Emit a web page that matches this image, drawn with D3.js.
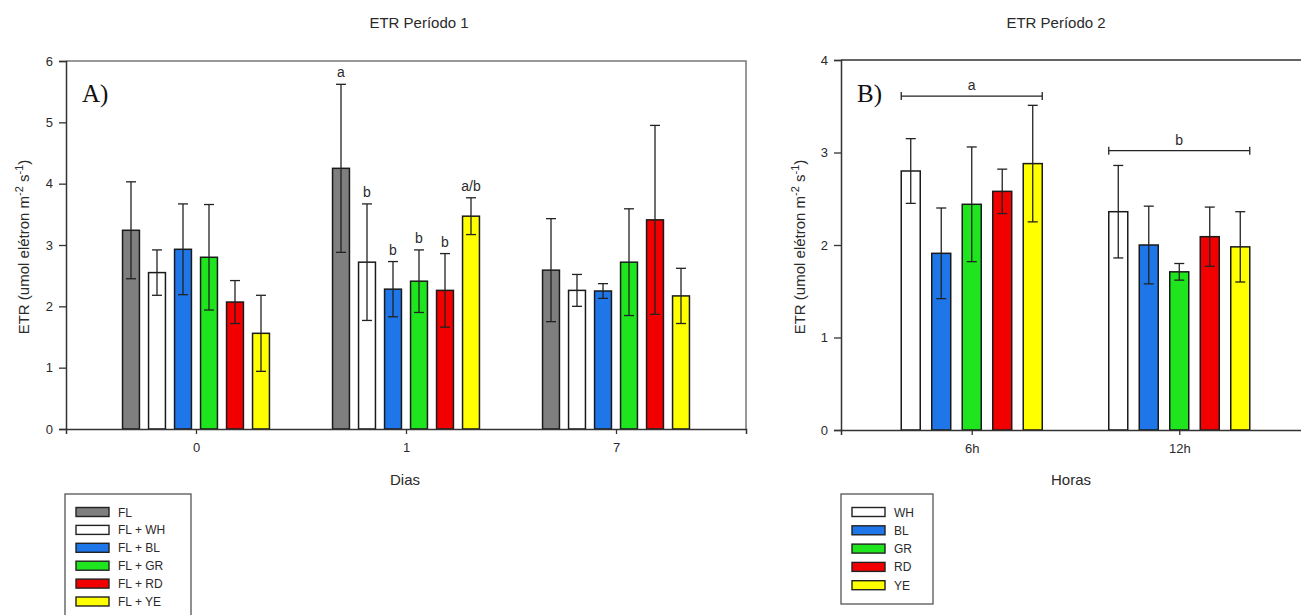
<!DOCTYPE html>
<html>
<head>
<meta charset="utf-8">
<script src="https://cdn.jsdelivr.net/npm/d3@7"></script>
<style>
  body { margin: 0; background: #fff; }
  svg { display: block; font-family: "Liberation Sans", Arial, sans-serif; }
</style>
</head>
<body>
<svg id="chart" width="1301" height="615"></svg>
<script>
// ---- Panel A data (ETR Período 1) ----
const daysA = ["0", "1", "7"];
const seriesA = ["FL", "FL + WH", "FL + BL", "FL + GR", "FL + RD", "FL + YE"];
const colorsA = ["#7f7f7f", "#ffffff", "#1e76e8", "#1fe51f", "#f20000", "#ffff00"];
const meanA = [
    [3.24, 2.55, 2.93, 2.80, 2.07, 1.56],
    [4.25, 2.72, 2.28, 2.41, 2.26, 3.47],
    [2.59, 2.26, 2.25, 2.72, 3.41, 2.17]
];
const errA = [
    [0.79, 0.37, 0.74, 0.86, 0.35, 0.62],
    [1.37, 0.95, 0.45, 0.51, 0.60, 0.30],
    [0.84, 0.26, 0.12, 0.87, 1.54, 0.45]
];
const lettersA = [
    ["", "", "", "", "", ""],
    ["a", "b", "b", "b", "b", "a/b"],
    ["", "", "", "", "", ""]
];
const ticksA = [0, 1, 2, 3, 4, 5, 6];

// ---- Panel B data (ETR Período 2) ----
const hoursB = ["6h", "12h"];
const seriesB = ["WH", "BL", "GR", "RD", "YE"];
const colorsB = ["#ffffff", "#1e76e8", "#1fe51f", "#f20000", "#ffff00"];
const meanB = [
    [2.80, 1.91, 2.44, 2.58, 2.88],
    [2.36, 2.00, 1.71, 2.09, 1.98]
];
const errB = [
    [0.35, 0.49, 0.62, 0.24, 0.63],
    [0.50, 0.42, 0.09, 0.32, 0.38]
];
const bracketLetters = ["a", "b"];
const bracketLevel = [3.61, 3.02];
const ticksB = [0, 1, 2, 3, 4];

const svg = d3.select("#chart");
const ink = "#2a2a2a";

// Draws one grouped bar panel and returns its scales
function drawPanel(opt) {
    const g = svg.append("g");
    const x0 = d3.scalePoint().domain(opt.groups).range([opt.left, opt.right]).padding(opt.groupPad);
    const x1 = d3.scaleBand().domain(opt.series).range([-opt.half, opt.half])
        .paddingInner(opt.barPad).paddingOuter(opt.barPad / 2);
    const y = d3.scaleLinear().domain([0, opt.ymax]).range([opt.bottom, opt.top]);

    // frame (top + right)
    g.append("path")
        .attr("d", `M${opt.left},${opt.top}H${opt.right}V${opt.bottom}`)
        .attr("fill", "none")
        .attr("stroke", opt.frameColor)
        .attr("stroke-width", 1.5);

    // one row per bar
    const rows = [];
    opt.groups.forEach((grp, i) => {
        opt.series.forEach((s, j) => {
            rows.push({ grp, s, j, v: opt.mean[i][j], e: opt.err[i][j], lab: opt.letters ? opt.letters[i][j] : "" });
        });
    });

    const bx = d => x0(d.grp) + x1(d.s);
    g.selectAll("rect.bar")
        .data(rows)
        .enter().append("rect")
        .attr("class", "bar")
        .attr("x", bx)
        .attr("width", x1.bandwidth())
        .attr("y", d => y(d.v))
        .attr("height", d => y(0) - y(d.v))
        .attr("fill", d => opt.colors[d.j])
        .attr("stroke", "#1a1a1a")
        .attr("stroke-width", 1.5);

    // error bars (line + caps at both ends)
    const eb = g.selectAll("g.err").data(rows).enter().append("g").attr("class", "err")
        .attr("stroke", "#222").attr("stroke-width", 1.3);
    const cx = d => bx(d) + x1.bandwidth() / 2;
    eb.append("line").attr("x1", cx).attr("x2", cx)
        .attr("y1", d => y(d.v + d.e)).attr("y2", d => y(d.v - d.e));
    eb.append("line").attr("x1", d => cx(d) - 5).attr("x2", d => cx(d) + 5)
        .attr("y1", d => y(d.v + d.e)).attr("y2", d => y(d.v + d.e));
    eb.append("line").attr("x1", d => cx(d) - 5).attr("x2", d => cx(d) + 5)
        .attr("y1", d => y(d.v - d.e)).attr("y2", d => y(d.v - d.e));

    // significance letters above bars
    g.selectAll("text.lab")
        .data(rows.filter(d => d.lab))
        .enter().append("text")
        .attr("class", "lab")
        .attr("x", cx)
        .attr("y", d => y(d.v + d.e) - 7)
        .attr("text-anchor", "middle")
        .attr("font-size", 14)
        .attr("fill", ink)
        .text(d => d.lab);

    // y axis
    const yAxis = g.append("g")
        .attr("transform", `translate(${opt.left},0)`)
        .call(d3.axisLeft(y).tickValues(opt.ticks).tickSize(7).tickPadding(6).tickFormat(d3.format("d")));
    yAxis.select(".domain").attr("stroke", "#333").attr("stroke-width", 1.5);
    yAxis.selectAll(".tick line").attr("stroke", "#333").attr("stroke-width", 1.3);
    yAxis.selectAll("text").attr("font-size", 13).attr("fill", ink)
        .attr("font-family", "Liberation Sans, Arial, sans-serif");

    // x axis
    const xAxis = g.append("g")
        .attr("transform", `translate(0,${opt.bottom})`)
        .call(d3.axisBottom(x0).tickSize(5).tickPadding(9));
    xAxis.select(".domain").attr("stroke", "#333").attr("stroke-width", 1.5);
    xAxis.selectAll(".tick line").attr("stroke", "#333").attr("stroke-width", 1.3);
    xAxis.selectAll("text").attr("font-size", 13).attr("fill", ink)
        .attr("font-family", "Liberation Sans, Arial, sans-serif");

    // titles
    svg.append("text").attr("x", opt.titleX).attr("y", 28).attr("text-anchor", "middle")
        .attr("font-size", 15).attr("fill", ink).text(opt.title);
    svg.append("text").attr("x", opt.xTitleX).attr("y", 485).attr("text-anchor", "middle")
        .attr("font-size", 15).attr("fill", ink).text(opt.xTitle);

    // rotated y title with superscripts
    const yt = svg.append("text")
        .attr("transform", `translate(${opt.yTitleX},247) rotate(-90)`)
        .attr("text-anchor", "middle")
        .attr("font-size", 15).attr("fill", ink);
    yt.append("tspan").text("ETR (umol elétron m");
    yt.append("tspan").attr("dy", -6).attr("font-size", 11).text("-2");
    yt.append("tspan").attr("dy", 6).text(" s");
    yt.append("tspan").attr("dy", -6).attr("font-size", 11).text("-1");
    yt.append("tspan").attr("dy", 6).text(")");

    // panel letter
    svg.append("text").attr("x", opt.left + 16).attr("y", 102)
        .attr("font-family", "Liberation Serif, Times New Roman, serif")
        .attr("font-size", 25).attr("fill", "#111").text(opt.panel);

    return { x0, x1, y, g };
}

// Panel A
drawPanel({
    groups: daysA, series: seriesA, colors: colorsA, mean: meanA, err: errA, letters: lettersA,
    left: 66, right: 746, top: 61, bottom: 429, ymax: 6, ticks: ticksA,
    groupPad: 0.619, half: 78, barPad: 0.35, frameColor: "#777",
    title: "ETR Período 1", titleX: 419, xTitle: "Dias", xTitleX: 405, yTitleX: 29, panel: "A)"
});

// Panel B
const pb = drawPanel({
    groups: hoursB, series: seriesB, colors: colorsB, mean: meanB, err: errB, letters: null,
    left: 841, right: 1310, top: 60, bottom: 430, ymax: 4, ticks: ticksB,
    groupPad: 0.63, half: 76.25, barPad: 0.377, frameColor: "#333",
    title: "ETR Período 2", titleX: 1056, xTitle: "Horas", xTitleX: 1071, yTitleX: 805, panel: "B)"
});

// Brackets spanning each hour group in panel B
hoursB.forEach((h, i) => {
    const xa = pb.x0(h) + pb.x1(seriesB[0]);
    const xb = pb.x0(h) + pb.x1(seriesB[seriesB.length - 1]) + pb.x1.bandwidth();
    const yy = pb.y(bracketLevel[i]);
    const br = pb.g.append("g").attr("stroke", "#222").attr("stroke-width", 1.3);
    br.append("line").attr("x1", xa).attr("x2", xb).attr("y1", yy).attr("y2", yy);
    br.append("line").attr("x1", xa).attr("x2", xa).attr("y1", yy - 4).attr("y2", yy + 4);
    br.append("line").attr("x1", xb).attr("x2", xb).attr("y1", yy - 4).attr("y2", yy + 4);
    pb.g.append("text").attr("x", (xa + xb) / 2).attr("y", yy - 6)
        .attr("text-anchor", "middle").attr("font-size", 14).attr("fill", ink)
        .text(bracketLetters[i]);
});

// Legends
function drawLegend(items, colors, x, y, w, h, rowStep) {
    const lg = svg.append("g").attr("transform", `translate(${x},${y})`);
    lg.append("rect").attr("width", w).attr("height", h)
        .attr("fill", "#fff").attr("stroke", "#555").attr("stroke-width", 1.3);
    const row = lg.selectAll("g.row").data(items).enter().append("g")
        .attr("transform", (d, i) => `translate(11,${18 + i * rowStep})`);
    row.append("rect").attr("y", -4.5).attr("width", 33).attr("height", 9)
        .attr("fill", (d, i) => colors[i]).attr("stroke", "#222").attr("stroke-width", 1.4);
    row.append("text").attr("x", 42).attr("y", 4.5).attr("font-size", 12).attr("fill", ink).text(d => d);
}
drawLegend(seriesA, colorsA, 65, 494, 126, 130, 17.9);
drawLegend(seriesB, colorsB, 841, 494, 92, 110, 18.3);
</script>
</body>
</html>
